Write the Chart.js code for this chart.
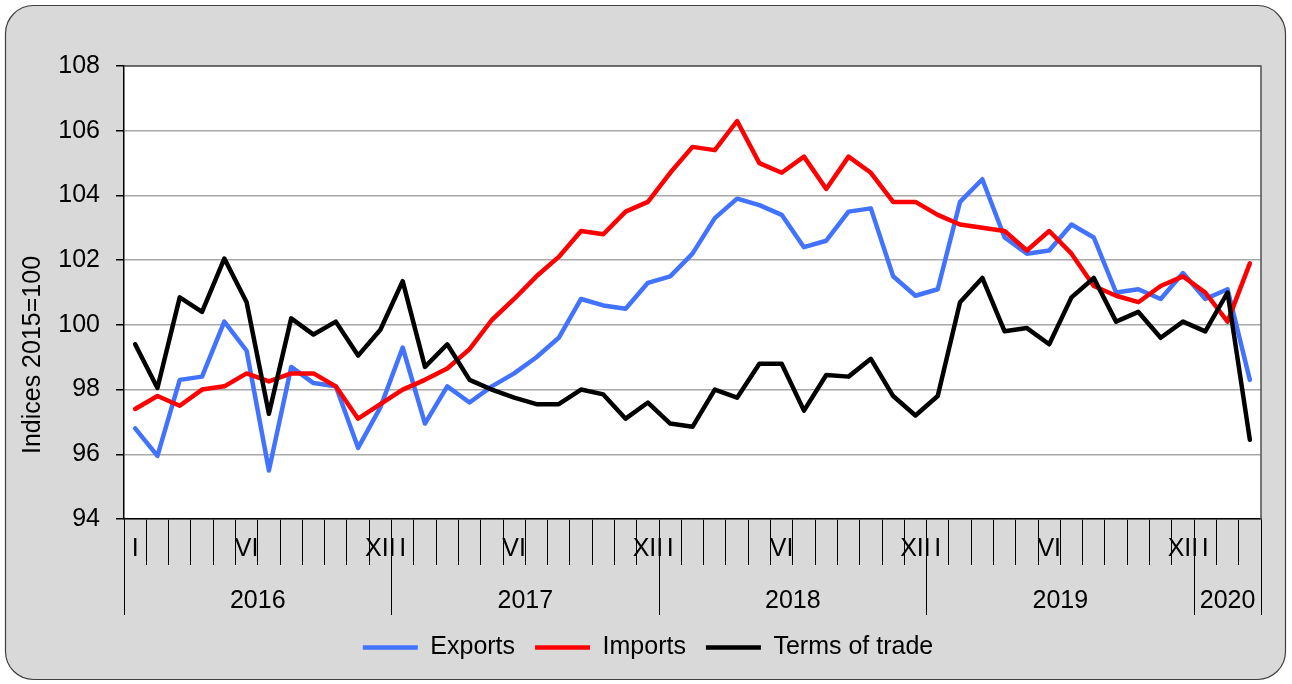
<!DOCTYPE html>
<html>
<head>
<meta charset="utf-8">
<script src="https://cdn.jsdelivr.net/npm/chart.js@4.4.1/dist/chart.umd.min.js"></script>
<style>
    html, body { margin: 0; padding: 0; background: #fff; }
    #wrap { width: 1292px; height: 684px; position: relative; }
</style>
</head>
<body>
<div id="wrap"><canvas id="myChart"></canvas></div>
<script>
// Dữ liệu theo tháng, 01/2016 - 03/2020
const years = ['2016', '2017', '2018', '2019', '2020'];
const monthsInYear = [12, 12, 12, 12, 3];
const romanTicks = ['I', '', '', '', '', 'VI', '', '', '', '', '', 'XII'];
const yTicks = [94, 96, 98, 100, 102, 104, 106, 108];

const exportsIdx = [
    96.8, 95.95, 98.3, 98.4, 100.1, 99.2, 95.5, 98.7, 98.2, 98.1, 96.2, 97.45,
    99.3, 96.95, 98.1, 97.6, 98.1, 98.5, 99.0, 99.6, 100.8, 100.6, 100.5, 101.3,
    101.5, 102.2, 103.3, 103.9, 103.7, 103.4, 102.4, 102.6, 103.5, 103.6, 101.5, 100.9,
    101.1, 103.8, 104.5, 102.7, 102.2, 102.3, 103.1, 102.7, 101.0, 101.1, 100.8, 101.6,
    100.8, 101.1, 98.3
];
const importsIdx = [
    97.4, 97.8, 97.5, 98.0, 98.1, 98.5, 98.25, 98.5, 98.5, 98.1, 97.1, 97.55,
    98.0, 98.3, 98.65, 99.25, 100.15, 100.8, 101.5, 102.1, 102.9, 102.8, 103.5, 103.8,
    104.7, 105.5, 105.4, 106.3, 105.0, 104.7, 105.2, 104.2, 105.2, 104.7, 103.8, 103.8,
    103.4, 103.1, 103.0, 102.9, 102.3, 102.9, 102.2, 101.2, 100.9, 100.7, 101.2, 101.5,
    101.0, 100.1, 101.9
];
const termsOfTrade = [
    99.4, 98.05, 100.85, 100.4, 102.05, 100.7, 97.25, 100.2, 99.7, 100.1, 99.05, 99.85,
    101.35, 98.7, 99.4, 98.3, 98.0, 97.75, 97.55, 97.55, 98.0, 97.85, 97.1, 97.6,
    96.95, 96.85, 98.0, 97.75, 98.8, 98.8, 97.35, 98.45, 98.4, 98.95, 97.8, 97.2,
    97.8, 100.7, 101.45, 99.8, 99.9, 99.4, 100.85, 101.45, 100.1, 100.4, 99.6, 100.1,
    99.8, 101.0, 96.45
];

const FONT = '"Liberation Sans", Arial, sans-serif';
Chart.defaults.font.family = FONT;
Chart.defaults.font.size = 25;
Chart.defaults.color = '#000';

// nhãn tháng + vị trí năm
const monthLabels = [];
const yearBounds = [0];
const yearMids = [];
let start = 0;
years.forEach((y, i) => {
    for (let m = 0; m < monthsInYear[i]; m++) monthLabels.push(romanTicks[m]);
    yearMids.push(start + monthsInYear[i] / 2);
    start += monthsInYear[i];
    yearBounds.push(start);
});
const totalMonths = start;
const yearTickValues = yearBounds.concat(yearMids).sort((a, b) => a - b);

// nền xám bo góc, vùng vẽ trắng, tiêu đề trục Y
const panel = {
    id: 'panel',
    beforeDraw(chart) {
        const { ctx, chartArea: a } = chart;
        ctx.save();
        ctx.fillStyle = '#fff';
        ctx.fillRect(0, 0, chart.width, chart.height);
        const x = 5.5, y = 5.5, w = 1280, h = 674, r = 28;
        ctx.beginPath();
        ctx.moveTo(x + r, y);
        ctx.arcTo(x + w, y, x + w, y + h, r);
        ctx.arcTo(x + w, y + h, x, y + h, r);
        ctx.arcTo(x, y + h, x, y, r);
        ctx.arcTo(x, y, x + w, y, r);
        ctx.closePath();
        ctx.fillStyle = '#d9d9d9';
        ctx.fill();
        ctx.strokeStyle = '#404040';
        ctx.lineWidth = 1.2;
        ctx.stroke();
        ctx.fillStyle = '#fff';
        ctx.fillRect(a.left, a.top, a.right - a.left, a.bottom - a.top);
        ctx.restore();
    },
    beforeDatasetsDraw(chart) {
        const { ctx, chartArea: a } = chart;
        ctx.save();
        ctx.strokeStyle = '#505050';
        ctx.lineWidth = 1.5;
        ctx.beginPath();
        ctx.moveTo(a.left, a.top);
        ctx.lineTo(a.right, a.top);
        ctx.lineTo(a.right, a.bottom);
        ctx.stroke();
        ctx.translate(33, 355);
        ctx.rotate(-Math.PI / 2);
        ctx.fillStyle = '#000';
        ctx.font = '25px ' + FONT;
        ctx.textAlign = 'center';
        ctx.textBaseline = 'middle';
        ctx.fillText('Indices 2015=100', 0, 0);
        ctx.restore();
    }
};

function series(label, data, color, order) {
    return {
        label: label,
        data: data,
        borderColor: color,
        backgroundColor: color,
        pointBorderColor: color,
        pointBackgroundColor: color,
        pointBorderWidth: 4.5,
        borderWidth: 4.5,
        order: order
    };
}

const ctx = document.getElementById('myChart');

new Chart(ctx, {
    type: 'line',
    data: {
        labels: monthLabels,
        datasets: [
            series('Exports', exportsIdx, '#4273ff', 2),
            series('Imports', importsIdx, '#ff0000', 1),
            series('Terms of trade', termsOfTrade, '#000000', 0)
        ]
    },
    options: {
        responsive: true,
        maintainAspectRatio: false,
        animation: false,
        layout: { padding: { top: 66, left: 35, right: 31, bottom: 14 } },
        elements: {
            line: { tension: 0, borderJoinStyle: 'round', borderCapStyle: 'round' },
            point: { radius: 0, hoverRadius: 0 }
        },
        scales: {
            x: {
                type: 'category',
                position: 'bottom',
                weight: 0,
                offset: true,
                grid: { offset: true, drawOnChartArea: false, tickLength: 46, color: '#000', lineWidth: 1 },
                border: { display: true, color: '#000', width: 1.5 },
                ticks: { autoSkip: false, maxRotation: 0, minRotation: 0, padding: -31, color: '#000' },
                afterFit: (s) => { s.height = 46; }
            },
            x2: {
                type: 'linear',
                position: 'bottom',
                weight: 1,
                min: 0,
                max: totalMonths,
                offset: false,
                afterBuildTicks: (s) => { s.ticks = yearTickValues.map(v => ({ value: v })); },
                grid: {
                    drawOnChartArea: false,
                    tickLength: 50,
                    lineWidth: 1,
                    color: (c) => (c.tick && yearBounds.includes(c.tick.value)) ? '#000' : 'rgba(0,0,0,0)'
                },
                border: { display: false },
                ticks: {
                    autoSkip: false, maxRotation: 0, minRotation: 0, padding: -29, color: '#000',
                    callback: (v) => {
                        const k = yearMids.indexOf(v);
                        return k >= 0 ? years[k] : '';
                    }
                },
                afterFit: (s) => { s.height = 50; }
            },
            y: {
                min: yTicks[0],
                max: yTicks[yTicks.length - 1],
                afterBuildTicks: (s) => { s.ticks = yTicks.map(v => ({ value: v })); },
                grid: { color: '#a8a8a8', lineWidth: 1.5, tickColor: '#000', tickLength: 8 },
                border: { display: true, color: '#000', width: 1.5 },
                ticks: { padding: 16, color: '#000' },
                afterFit: (s) => { s.width = 89; }
            }
        },
        plugins: {
            legend: {
                position: 'bottom',
                labels: {
                    usePointStyle: true,
                    pointStyle: 'line',
                    pointStyleWidth: 55,
                    padding: 20,
                    color: '#000',
                    font: { size: 25 },
                    sort: (a, b) => a.datasetIndex - b.datasetIndex
                }
            },
            tooltip: { enabled: false }
        }
    },
    plugins: [panel]
});
</script>
</body>
</html>
